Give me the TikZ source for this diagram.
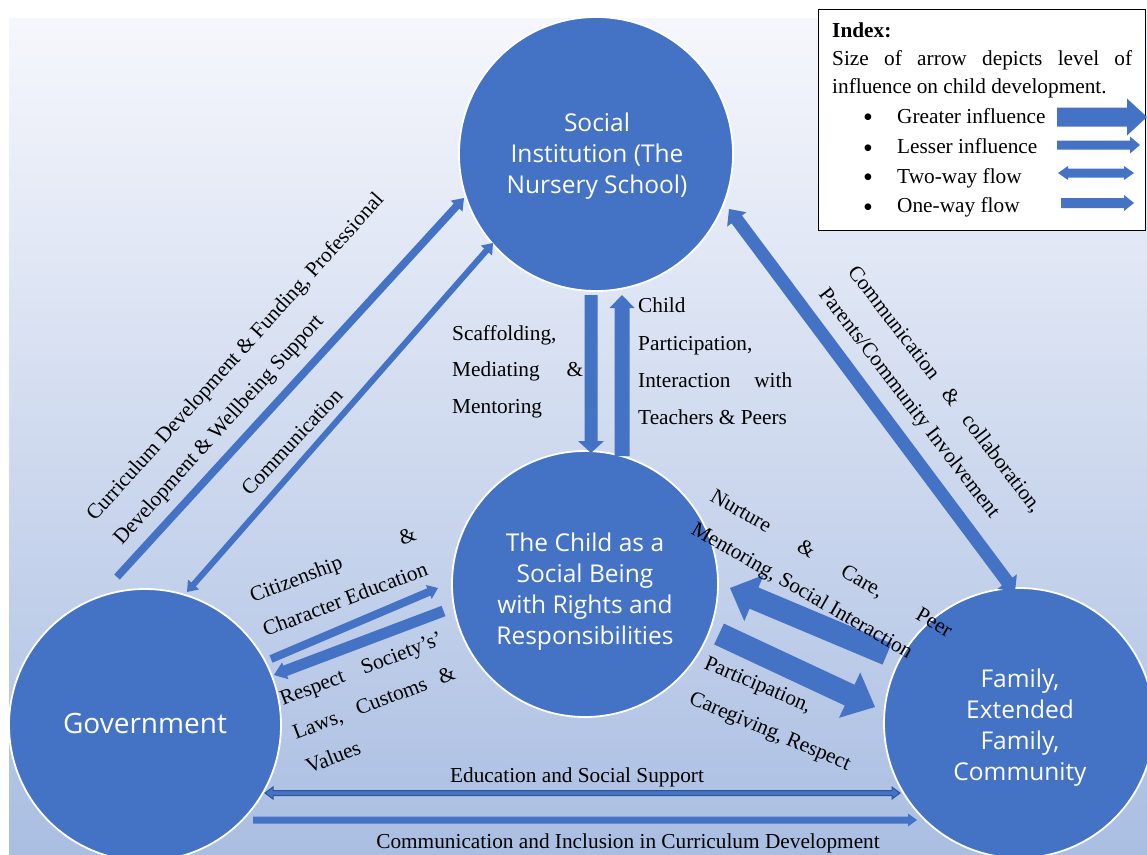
\documentclass[tikz,border=0pt]{standalone}
\usepackage{fontspec}
\setmainfont{Liberation Serif}
\newfontfamily\circfont{Open Sans}
\usetikzlibrary{calc}
\definecolor{ablue}{HTML}{4472C4}
\definecolor{dblue}{HTML}{2F5597}
\definecolor{bgtop}{RGB}{246,247,252}
\definecolor{bgbot}{RGB}{170,190,226}
% block arrow: [style] tail tip halfshaft halfhead headlength
\newcommand{\onearrow}[6][ablue]{%
  \coordinate (tmpn) at ($(#3)!#6!(#2)$);
  \fill[#1] ($(#2)!#4!90:(#3)$) -- ($(tmpn)!#4!90:(#3)$) -- ($(tmpn)!#5!90:(#3)$) -- (#3)
    -- ($(tmpn)!#5!-90:(#3)$) -- ($(tmpn)!#4!-90:(#3)$) -- ($(#2)!#4!-90:(#3)$) -- cycle;}
\newcommand{\twoarrow}[6][ablue]{%
  \coordinate (tmpa) at ($(#2)!#6!(#3)$);
  \coordinate (tmpb) at ($(#3)!#6!(#2)$);
  \fill[#1] (#2) -- ($(tmpa)!#5!90:(#3)$) -- ($(tmpa)!#4!90:(#3)$) -- ($(tmpb)!#4!90:(#3)$)
    -- ($(tmpb)!#5!90:(#3)$) -- (#3) -- ($(tmpb)!#5!-90:(#3)$) -- ($(tmpb)!#4!-90:(#3)$)
    -- ($(tmpa)!#4!-90:(#3)$) -- ($(tmpa)!#5!-90:(#3)$) -- cycle;}
\begin{document}
\begin{tikzpicture}[x=1pt,y=-1pt,
  circ/.style={circle,fill=ablue,draw=white,line width=1.8pt,inner sep=0pt},
  ctext/.style={text=white,align=center,inner sep=0pt,font=\circfont\fontsize{24.5}{31}\selectfont},
  lbl/.style={inner sep=0pt,anchor=base west,font=\fontsize{21.3}{36}\selectfont},
  bul/.style={inner sep=0pt,anchor=base west,font=\fontsize{28}{30}\selectfont},
]
\useasboundingbox (0,0) rectangle (1147,854);
\clip (0,0) rectangle (1147,854);
\shade[top color=bgtop,bottom color=bgbot] (9,18) rectangle (1147,854);

% circles
\node[circ,minimum size=274pt] (soc) at (596,154) {};
\node[circ,minimum size=266pt] (child) at (585,584) {};
\node[circ,minimum size=272pt] (gov) at (145,725) {};
\node[circ,minimum size=270pt] (fam) at (1019,723) {};
\node[ctext] (soct) at (597,156) {Social\\Institution (The\\Nursery School)};
\node[ctext] (childt) at (585,592) {The Child as a\\Social Being\\with Rights and\\Responsibilities};
\node[ctext,font=\circfont\fontsize{28}{34}\selectfont] (govt) at (145,723.5) {Government};
\node[ctext] (famt) at (1020,727.5) {Family,\\Extended\\Family,\\Community};

% arrow end points
\coordinate (g1) at (117,577);   \coordinate (s1) at (464,198);
\coordinate (g2) at (187,592);   \coordinate (s2) at (493,243);
\coordinate (s3) at (591,295);   \coordinate (c3) at (591,453);
\coordinate (c4) at (622,456);   \coordinate (s4) at (622,295);
\coordinate (s5) at (729,209);   \coordinate (f5) at (1015,592);
\coordinate (g6) at (271,659);   \coordinate (c6) at (438,588);
\coordinate (c7) at (443.5,611); \coordinate (g7) at (274,675);
\coordinate (f8) at (887,654);   \coordinate (c8) at (730,588);
\coordinate (c9) at (719,634);   \coordinate (f9) at (875,707);
\coordinate (g10) at (265,793);  \coordinate (f10) at (900,793);
\coordinate (g11) at (253,820);  \coordinate (f11) at (917,820);

\onearrow{g1}{s1}{3.8pt}{8pt}{11pt}
\twoarrow{g2}{s2}{3pt}{7.5pt}{10pt}
\onearrow{s3}{c3}{6.5pt}{13pt}{12pt}
\onearrow{c4}{s4}{7.5pt}{12.5pt}{13pt}
\twoarrow{s5}{f5}{6.5pt}{12pt}{13pt}
\onearrow{g6}{c6}{4pt}{7.5pt}{10pt}
\onearrow{c7}{g7}{5.5pt}{9pt}{12pt}
\onearrow{f8}{c8}{11.5pt}{25pt}{26pt}
\onearrow{c9}{f9}{11.5pt}{25pt}{28pt}
\twoarrow[fill=ablue,draw=dblue,line width=1pt]{g10}{f10}{2.5pt}{6pt}{8pt}
\onearrow{g11}{f11}{3.5pt}{6.5pt}{9pt}

% labels
\node[lbl,rotate=48] (cur1) at (95,522) {Curriculum Development \& Funding, Professional};
\node[lbl,rotate=48] (cur2) at (122,546) {Development \& Wellbeing Support};
\node[lbl,rotate=47] (comm) at (250,497) {Communication};

\node[lbl] (sc1) at (452,340) {Scaffolding,};
\node[lbl] (sc2) at (452,376.5) {\makebox[131pt][s]{Mediating \&}};
\node[lbl] (sc3) at (452,413) {Mentoring};

\node[lbl] (ch1) at (638,312) {Child};
\node[lbl] (ch2) at (638,350) {Participation,};
\node[lbl] (ch3) at (638,387) {\makebox[154pt][s]{Interaction with}};
\node[lbl] (ch4) at (638,424) {Teachers \& Peers};

\node[lbl,rotate=-52.5] (cc1) at (847,272) {\makebox[305pt][s]{Communication \& collaboration,}};
\node[lbl,rotate=-52.5] (cc2) at (818,294) {Parents/Community Involvement};

\node[lbl,rotate=21] (ci1) at (253,603) {\makebox[176pt][s]{Citizenship \&}};
\node[lbl,rotate=21] (ci2) at (266,637) {Character Education};

\node[lbl,rotate=21] (re1) at (283,706) {\makebox[172pt][s]{Respect Society’s’}};
\node[lbl,rotate=21] (re2) at (296,740) {\makebox[172pt][s]{Laws, Customs \&}};
\node[lbl,rotate=21] (re3) at (309,774) {Values};

\node[lbl,rotate=-30] (nu1) at (709,500) {\makebox[275pt][s]{Nurture \& Care, Peer}};
\node[lbl,rotate=-30] (nu2) at (690,533) {Mentoring, Social Interaction};

\node[lbl,rotate=-23] (pa1) at (703,668) {Participation,};
\node[lbl,rotate=-23] (pa2) at (688,703) {Caregiving, Respect};

\node[lbl,anchor=base] (edu) at (577,782) {Education and Social Support};
\node[lbl,anchor=base] (cin) at (628,848) {Communication and Inclusion in Curriculum Development};

% index
\node[draw=black,fill=white,line width=1pt,minimum width=327pt,minimum height=221pt,anchor=north west,inner sep=0pt] (idx) at (818,9) {};
\node[lbl,font=\bfseries\fontsize{21.3}{28}\selectfont] (i0) at (832,37) {Index:};
\node[lbl] (i1) at (832,65) {\makebox[300pt][s]{Size of arrow depicts level of}};
\node[lbl] (i2) at (832,93) {influence on child development.};
\node[bul] (b1) at (863,126) {•};
\node[bul] (b2) at (863,157) {•};
\node[bul] (b3) at (863,186) {•};
\node[bul] (b4) at (863,216) {•};
\node[lbl] (t1) at (897,123) {Greater influence};
\node[lbl] (t2) at (897,153) {Lesser influence};
\node[lbl] (t3) at (897,183) {Two-way flow};
\node[lbl] (t4) at (897,212) {One-way flow};
\coordinate (k1a) at (1057,117); \coordinate (k1b) at (1147,117);
\coordinate (k2a) at (1057,145); \coordinate (k2b) at (1140,145);
\coordinate (k3a) at (1058,173); \coordinate (k3b) at (1134,173);
\coordinate (k4a) at (1061,203); \coordinate (k4b) at (1134,203);
\onearrow{k1a}{k1b}{9.5pt}{18.5pt}{20pt}
\onearrow{k2a}{k2b}{4.5pt}{8.5pt}{10pt}
\twoarrow{k3a}{k3b}{4.5pt}{7pt}{10pt}
\onearrow{k4a}{k4b}{5pt}{8pt}{10pt}
\end{tikzpicture}
\end{document}
